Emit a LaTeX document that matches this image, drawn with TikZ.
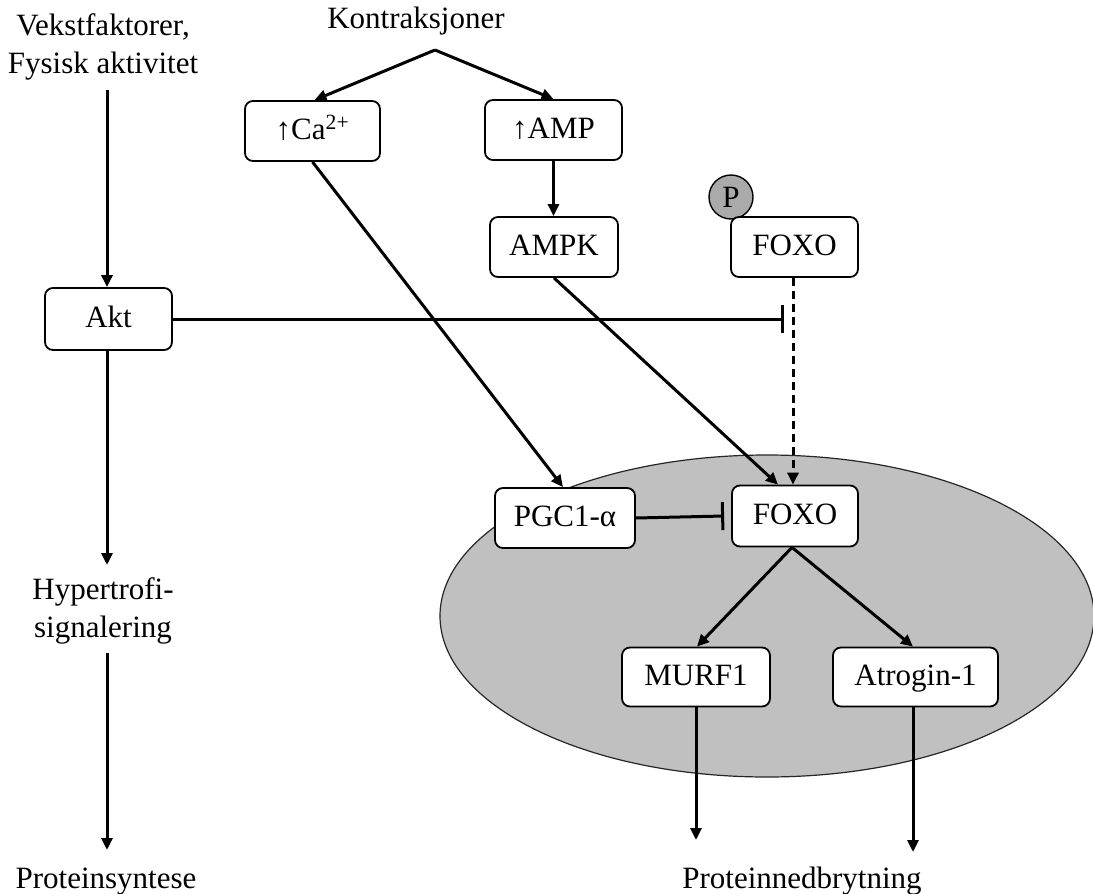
\documentclass[tikz,border=0pt]{standalone}
\usepackage{fontspec}
\setmainfont{Liberation Serif}
\usetikzlibrary{arrows.meta}
\definecolor{nuc}{RGB}{192,192,192}
\definecolor{pcol}{RGB}{170,170,170}
\begin{document}
\begin{tikzpicture}[x=1pt,y=-1pt,
 every node/.style={font=\fontsize{31}{38}\selectfont, inner sep=0pt},
 box/.style={draw, line width=1.8pt, rounded corners=8pt, fill=white, minimum height=60pt, text height=23pt, text depth=7pt},
 arr/.style={line width=3pt, -{Triangle[length=12pt,width=11pt]}},
 inh/.style={line width=3pt, -{Bar[width=28pt,line width=3pt]}},
 lbl/.style={align=center}]
\useasboundingbox (0,0) rectangle (1093,894);
% nucleus
\filldraw[fill=nuc, draw=black!85, line width=1.2pt] (767,616) ellipse [x radius=327, y radius=161];
% text labels (base anchor = last line)
\node[lbl, anchor=base] (vek) at (103,73) {Vekstfaktorer,\\Fysisk aktivitet};
\node[anchor=base] (kon) at (416,28) {Kontraksjoner};
\node[lbl, anchor=base] (hyp) at (103,637) {Hypertrofi-\\signalering};
\node[anchor=base] (psyn) at (106,888) {Proteinsyntese};
\node[anchor=base] (pnb) at (802,888) {Proteinnedbrytning};
% boxes
\node[box, minimum width=127pt, minimum height=62pt] (akt) at (108.5,319) {Akt};
\node[box, minimum width=135pt] (ca) at (312.5,131) {↑Ca\textsuperscript{2+}};
\node[box, minimum width=137pt] (amp) at (553.5,130) {↑AMP};
\node[box, minimum width=128pt] (ampk) at (554,247) {AMPK};
\node[circle, draw, fill=pcol, line width=1.4pt, minimum size=44pt] (p) at (731,197) {P};
\node[box, minimum width=127pt] (foxo1) at (794.5,247) {FOXO};
\node[box, minimum width=140pt] (pgc) at (565,518) {PGC1-α};
\node[box, minimum width=126pt, minimum height=61pt] (foxo2) at (795,516) {FOXO};
\node[box, minimum width=148pt, minimum height=59pt] (murf) at (696,677) {MURF1};
\node[box, minimum width=165pt, minimum height=59pt] (atro) at (915.5,677) {Atrogin-1};
% free-end coordinates
\coordinate (split) at (435,50);
\coordinate (vekend) at (107,89.5);
\coordinate (hyptop) at (107,565);
\coordinate (hypbot) at (107,653);
\coordinate (psyntop) at (107,850);
\coordinate (m1) at (696,840);
\coordinate (a1) at (913,852);
% connectors
\draw[arr] (split) -- ([xshift=2pt]ca.north);
\draw[arr] (split) -- (amp.north);
\draw[arr] (vekend) -- (vekend |- akt.north);
\draw[arr] (vekend |- akt.south) -- (hyptop);
\draw[arr] (hypbot) -- (psyntop);
\draw[arr] (amp.south) -- (amp.south |- ampk.north);
\draw[arr] (ca.south) -- ([xshift=-2pt]pgc.north);
\draw[arr] (ampk.south) -- ([xshift=-17pt]foxo2.north);
\draw[inh] (akt.east) -- (784,319);
\draw[line width=3pt, dash pattern=on 8pt off 5pt, -{Triangle[length=12pt,width=11pt]}] ([xshift=-1.5pt]foxo1.south) -- ([xshift=-2pt]foxo2.north);
\draw[inh] (pgc.east) -- ([xshift=-7pt]foxo2.west);
\draw[arr] ([xshift=-3pt]foxo2.south) -- ([xshift=1pt]murf.north);
\draw[arr] ([xshift=-3pt]foxo2.south) -- ([xshift=-2.5pt]atro.north);
\draw[arr] (murf.south) -- (m1);
\draw[arr] ([xshift=-2.5pt]atro.south) -- (a1);
\end{tikzpicture}
\end{document}
